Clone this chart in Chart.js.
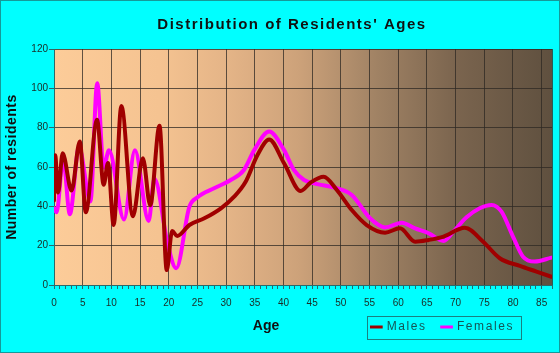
<!DOCTYPE html>
<html>
<head>
<meta charset="utf-8">
<style>
html,body{margin:0;padding:0;background:#00FFFF;}
#wrap{width:560px;height:353px;}
canvas{display:block;}
</style>
<script src="https://cdn.jsdelivr.net/npm/chart.js@4.4.1/dist/chart.umd.min.js"></script>
</head>
<body>
<div id="wrap"><canvas id="c" width="560" height="353"></canvas></div>
<script>
// ---- texts ----
const chartTitle = "Distribution of Residents' Ages";
const xAxisTitle = 'Age';
const yAxisTitle = 'Number of residents';
const seriesNames = ['Males', 'Females'];

// ---- tick labels ----
const xTickLabels = ['0','5','10','15','20','25','30','35','40','45','50','55','60','65','70','75','80','85'];
const yTickValues = [0, 20, 40, 60, 80, 100, 120];

// ---- series (age, number of residents) ----
const maleAges = [0, 0.2, 0.73, 1.5, 3.06, 4.5, 5.54, 7.5, 8.66, 9.41, 10.4, 11.74, 13.75, 15.49, 16.77, 18.39, 19.65, 20.59, 21.46, 23.6, 26.2, 29.1, 31.4, 33.4, 35.45, 37.5, 40.1, 43.0, 44.7, 47.0, 49.3, 51.9, 54.5, 57.7, 60.3, 62.95, 65.3, 67.9, 71.6, 74.8, 77.7, 81.2, 84.1, 86.7];
const maleCounts = [43, 66, 47, 67, 48, 73, 37, 84, 51, 62, 30.5, 91, 35, 64.5, 40.5, 81, 7.6, 27.5, 24.9, 30.5, 33.9, 39, 44.9, 52.5, 66, 74, 61.9, 47.8, 52, 55, 48.3, 38.1, 30.5, 26.6, 28.8, 22, 22.9, 24.6, 29.1, 22, 13.6, 9.7, 6.8, 4.2];

const femaleAges = [0, 0.45, 1.6, 2.76, 4.35, 6.35, 7.53, 8.66, 9.58, 12.2, 14.1, 16.5, 17.5, 19.8, 21.3, 23.6, 25.0, 27.9, 30.8, 33.1, 34.9, 37.5, 40.1, 41.8, 43.6, 45.9, 49.3, 51.9, 55.1, 57.7, 60.6, 62.95, 65.3, 67.9, 69.6, 71.9, 74.2, 76.25, 78.0, 80.0, 81.75, 83.8, 86.7];
const femaleCounts = [39, 37, 64, 36, 70, 42.5, 102.6, 59.7, 68.5, 33.3, 68.5, 32.6, 54, 21, 8.5, 39.8, 44.6, 49.2, 53.4, 58.5, 68.6, 78, 68.6, 58.5, 53.4, 51.3, 49.2, 45.8, 33.9, 29.3, 31.7, 28.8, 26.3, 22.4, 27.1, 34.4, 39, 40.7, 37.3, 24.6, 14.4, 11.9, 13.9];

const X_MAX = 86.8;
const FONT = "'Liberation Sans', Arial, Helvetica, sans-serif";
const GRID = 'rgba(45,40,35,0.75)';
const AXIS = '#2a6a6a';
const TICK_TEXT = '#1b2b25';

const toPoints = (xs, ys) => xs.map((x, i) => ({x: x, y: ys[i]}));

const backgroundPlugin = {
  id: 'bgPlot',
  beforeDraw(chart) {
    const ctx = chart.ctx;
    ctx.save();
    ctx.fillStyle = '#00FFFF';
    ctx.fillRect(0, 0, chart.width, chart.height);
    ctx.strokeStyle = '#159a9a';
    ctx.lineWidth = 1;
    ctx.strokeRect(0.5, 0.5, chart.width - 1, chart.height - 1);
    const a = chart.chartArea;
    const g = ctx.createLinearGradient(a.left, 0, a.right, 0);
    g.addColorStop(0.00, 'rgb(252,204,153)');
    g.addColorStop(0.21, 'rgb(245,195,145)');
    g.addColorStop(0.35, 'rgb(228,180,135)');
    g.addColorStop(0.49, 'rgb(205,162,122)');
    g.addColorStop(0.65, 'rgb(160,130,100)');
    g.addColorStop(0.81, 'rgb(122,100,78)');
    g.addColorStop(1.00, 'rgb(95,80,63)');
    ctx.fillStyle = g;
    ctx.fillRect(a.left, a.top, a.right - a.left, a.bottom - a.top);
    ctx.restore();

    // letter spacing for chart title and y-axis title
    if (chart.titleBlock && !chart.titleBlock._spaced) {
      const orig = chart.titleBlock.draw;
      chart.titleBlock.draw = function () {
        chart.ctx.save(); chart.ctx.letterSpacing = '1.5px';
        orig.apply(this, arguments);
        chart.ctx.restore();
      };
      chart.titleBlock._spaced = true;
    }
    const ys = chart.scales.y;
    if (ys && !ys._spaced) {
      const o = ys.drawTitle;
      ys.drawTitle = function () {
        chart.ctx.save(); chart.ctx.letterSpacing = '0.5px';
        o.apply(this, arguments);
        chart.ctx.restore();
      };
      ys._spaced = true;
    }
  }
};

const bottomPlugin = {
  id: 'bottomTexts',
  afterDraw(chart) {
    const ctx = chart.ctx;
    ctx.save();
    // x axis title
    ctx.fillStyle = '#111111';
    ctx.font = 'bold 14px ' + FONT;
    ctx.textAlign = 'center';
    ctx.textBaseline = 'middle';
    ctx.fillText(xAxisTitle, 266, 326);
    // legend box
    const bx = 367.5, by = 316.5, bw = 154, bh = 23;
    ctx.strokeStyle = '#1a8080';
    ctx.lineWidth = 1;
    ctx.strokeRect(bx, by, bw, bh);
    ctx.font = '12px ' + FONT;
    ctx.letterSpacing = '1.6px';
    ctx.textAlign = 'left';
    let cx = bx + 2.5;
    const cy = by + bh / 2 - 1;
    chart.data.datasets.forEach((ds) => {
      ctx.strokeStyle = ds.borderColor;
      ctx.lineWidth = 3;
      ctx.beginPath();
      ctx.moveTo(cx, cy);
      ctx.lineTo(cx + 12.7, cy);
      ctx.stroke();
      cx += 16.7;
      ctx.fillStyle = '#145555';
      ctx.fillText(ds.label, cx, cy);
      cx += ctx.measureText(ds.label).width + 13.5;
    });
    ctx.restore();
  }
};

new Chart(document.getElementById('c'), {
  type: 'line',
  data: {
    datasets: [
      { label: seriesNames[0], data: toPoints(maleAges, maleCounts), borderColor: '#A00000', backgroundColor: '#A00000' },
      { label: seriesNames[1], data: toPoints(femaleAges, femaleCounts), borderColor: '#FF00FF', backgroundColor: '#FF00FF' }
    ]
  },
  options: {
    responsive: false,
    animation: false,
    devicePixelRatio: 1,
    layout: { padding: { left: 30, right: 6, top: 0, bottom: 0 } },
    elements: {
      point: { radius: 0, hoverRadius: 0 },
      line: { borderWidth: 4, cubicInterpolationMode: 'monotone', fill: false, borderCapStyle: 'round', borderJoinStyle: 'round' }
    },
    plugins: {
      legend: { display: false },
      tooltip: { enabled: false },
      title: {
        display: true, text: chartTitle, color: '#111111',
        font: { family: FONT, size: 15, weight: 'bold' },
        padding: { top: 16, bottom: 15 }
      }
    },
    scales: {
      x: {
        type: 'linear', min: 0, max: X_MAX,
        afterFit: (s) => { s.height = 68; },
        ticks: {
          stepSize: 1, autoSkip: false, maxRotation: 0, minRotation: 0,
          color: TICK_TEXT, font: { family: FONT, size: 10 }, padding: 8,
          callback: (v) => (Number.isInteger(v) && v % 5 === 0) ? (xTickLabels[v / 5] || '') : ''
        },
        grid: {
          color: (c) => {
            const v = c.tick ? c.tick.value : 0;
            return (Number.isInteger(v) && v % 5 === 0) || v >= X_MAX ? GRID : 'rgba(0,0,0,0)';
          },
          lineWidth: 1, tickLength: 4, tickColor: AXIS
        },
        border: { color: AXIS, width: 1 },
        title: { display: false }
      },
      y: {
        min: 0, max: 120,
        afterFit: (s) => { s.width = 24; },
        afterBuildTicks: (s) => { s.ticks = yTickValues.map(v => ({ value: v })); },
        ticks: { color: TICK_TEXT, font: { family: FONT, size: 10 }, padding: 1 },
        grid: { color: GRID, lineWidth: 1, tickLength: 5, tickColor: AXIS },
        border: { color: AXIS, width: 1 },
        title: {
          display: true, text: yAxisTitle, color: '#111111',
          font: { family: FONT, size: 14, weight: 'bold' },
          padding: { top: -26.7, bottom: 0 }
        }
      }
    }
  },
  plugins: [backgroundPlugin, bottomPlugin]
});
</script>
</body>
</html>
